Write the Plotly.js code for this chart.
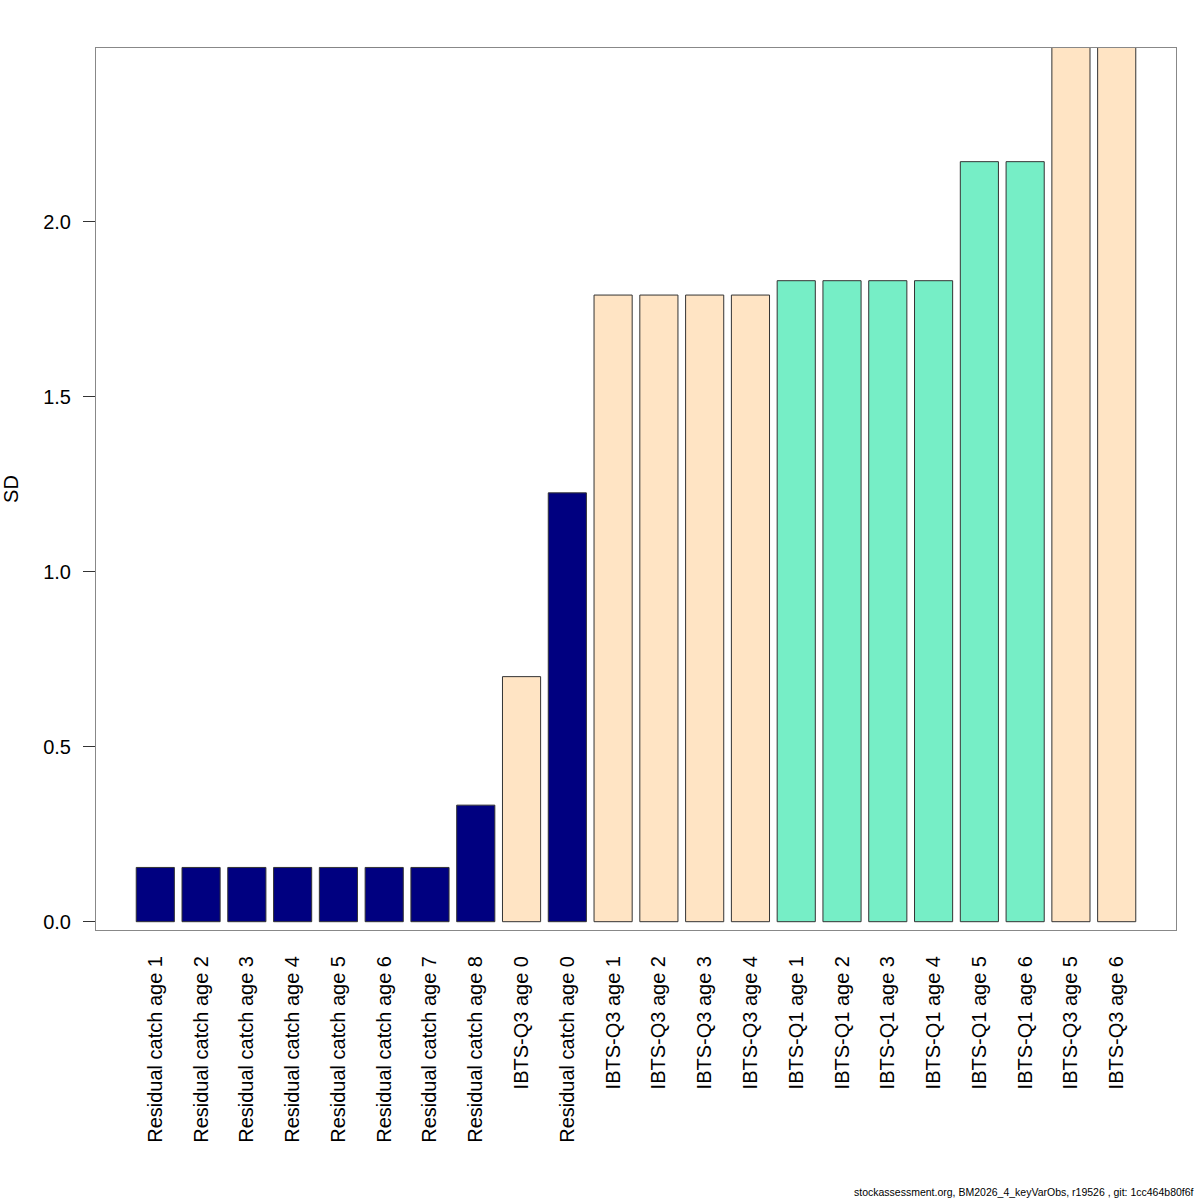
<!DOCTYPE html>
<html>
<head>
<meta charset="utf-8">
<script src="https://cdn.plot.ly/plotly-3.0.1.min.js"></script>
<style>html,body{margin:0;padding:0;background:#fff;}#chart{width:1200px;height:1200px;}</style>
</head>
<body>
<div id="chart"></div>
<script>
// Data
const labels = [
  "Residual catch age 1", "Residual catch age 2", "Residual catch age 3", "Residual catch age 4",
  "Residual catch age 5", "Residual catch age 6", "Residual catch age 7", "Residual catch age 8",
  "IBTS-Q3 age 0", "Residual catch age 0",
  "IBTS-Q3 age 1", "IBTS-Q3 age 2", "IBTS-Q3 age 3", "IBTS-Q3 age 4",
  "IBTS-Q1 age 1", "IBTS-Q1 age 2", "IBTS-Q1 age 3", "IBTS-Q1 age 4",
  "IBTS-Q1 age 5", "IBTS-Q1 age 6", "IBTS-Q3 age 5", "IBTS-Q3 age 6"
];
const sdValues = [
  0.155, 0.155, 0.155, 0.155, 0.155, 0.155, 0.155, 0.333,
  0.700, 1.225,
  1.790, 1.790, 1.790, 1.790,
  1.831, 1.831, 1.831, 1.831,
  2.171, 2.171, 2.60, 2.60
];
const fleets = ["Residual catch", "IBTS-Q3", "IBTS-Q1"];
const yTickVals = [0.0, 0.5, 1.0, 1.5, 2.0];
const yTickText = ["0.0", "0.5", "1.0", "1.5", "2.0"];
const footer = "stockassessment.org, BM2026_4_keyVarObs, r19526 , git: 1cc464b80f6f";

const fleetColors = {"Residual catch": "#000080", "IBTS-Q3": "#FFE4C4", "IBTS-Q1": "#76EEC6"};
const barColors = labels.map(l => fleetColors[fleets.find(f => l.startsWith(f))]);

const font = "Liberation Sans, Arial, Helvetica, sans-serif";

const trace = {
  type: "bar",
  x: labels,
  y: sdValues,
  marker: {color: barColors, line: {color: "#333333", width: 1}},
  hoverinfo: "x+y"
};

const layout = {
  width: 1200, height: 1200,
  margin: {l: 96, r: 24, t: 48, b: 270},
  paper_bgcolor: "#ffffff", plot_bgcolor: "#ffffff",
  showlegend: false,
  bargap: 0.167,
  font: {family: font, size: 20, color: "#000"},
  xaxis: {
    type: "category",
    range: [-1.295, 22.295],
    tickangle: -90,
    ticks: "",
    ticklabelstandoff: 17,
    showgrid: false, zeroline: false,
    showline: true, mirror: true, linecolor: "#888888", linewidth: 1,
    tickfont: {family: font, size: 20, color: "#000"}
  },
  yaxis: {
    range: [-0.0237, 2.4957],
    tickvals: yTickVals, ticktext: yTickText,
    ticks: "outside", ticklen: 12, tickcolor: "#333", tickwidth: 1,
    ticklabelstandoff: 8,
    showgrid: false, zeroline: false,
    showline: true, mirror: true, linecolor: "#888888", linewidth: 1,
    tickfont: {family: font, size: 20, color: "#000"},
    title: {text: "SD", font: {family: font, size: 20, color: "#000"}, standoff: 19}
  },
  annotations: [{
    text: footer, xref: "paper", yref: "paper", x: 1, y: 0,
    xanchor: "right", yanchor: "middle", showarrow: false,
    xshift: 20, yshift: -262,
    font: {family: font, size: 10.5, color: "#000"}
  }]
};

Plotly.newPlot("chart", [trace], layout, {displayModeBar: false, staticPlot: true});
</script>
</body>
</html>
